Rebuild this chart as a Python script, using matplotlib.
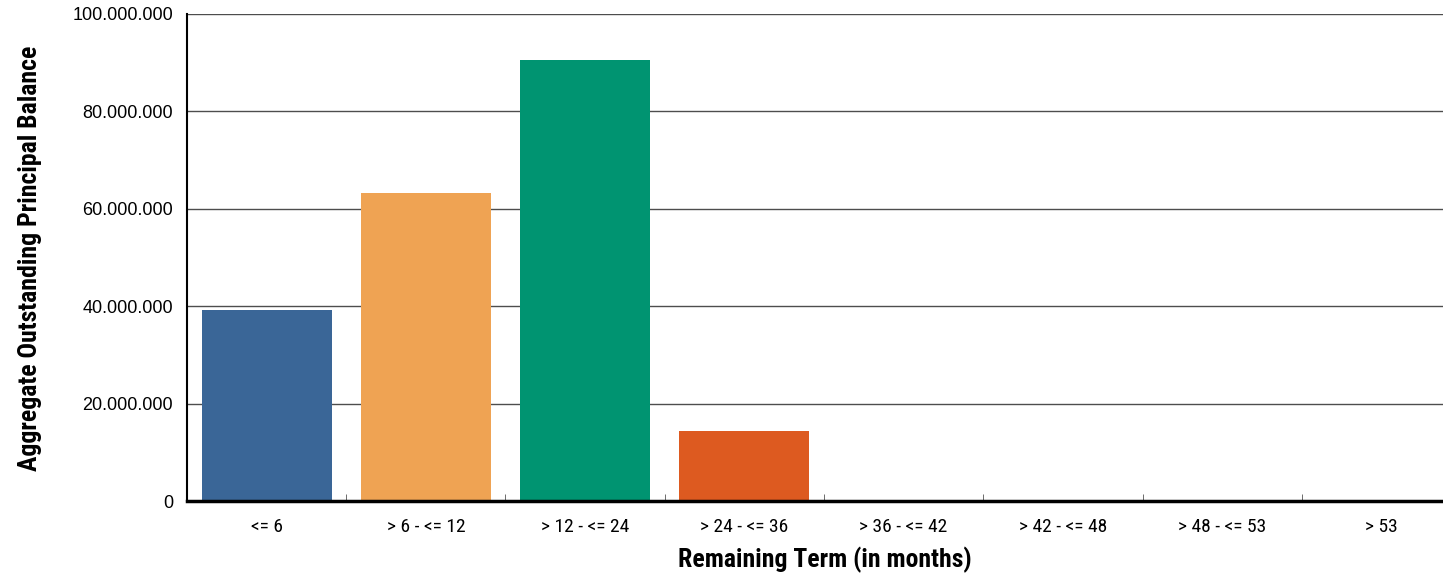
import matplotlib
matplotlib.use("Agg")
import matplotlib.pyplot as plt
from matplotlib import font_manager
from matplotlib.ticker import FuncFormatter, FixedLocator

names = {f.name for f in font_manager.fontManager.ttflist}
narrow = "Liberation Sans"
for cand in ["Roboto Condensed", "Archivo Narrow", "PT Sans Narrow", "Fira Sans Condensed"]:
    if cand in names:
        narrow = cand
        break

categories = ["<= 6", "> 6 - <= 12", "> 12 - <= 24", "> 24 - <= 36",
              "> 36 - <= 42", "> 42 - <= 48", "> 48 - <= 53", "> 53"]
values = [39200000, 63200000, 90600000, 14400000, 0, 0, 0, 0]
colors = ["#3a6697", "#efa353", "#009471", "#dd5a20",
          "#3a6697", "#efa353", "#009471", "#dd5a20"]
yticks = [0, 20000000, 40000000, 60000000, 80000000, 100000000]

fig = plt.figure(figsize=(14.43, 5.77), dpi=100)
ax = fig.add_axes([187/1443, 1-501/577, (1461-187)/1443, (501-14)/577])

x = list(range(len(categories)))
ax.bar(x, values, width=0.815, color=colors, zorder=3)
ax.set_xlim(-0.5, len(categories)-0.5)
ax.set_ylim(0, 100000000)
ax.yaxis.set_major_locator(FixedLocator(yticks))
ax.yaxis.set_major_formatter(FuncFormatter(lambda v, p: f"{int(v):,}".replace(",", ".")))
ax.grid(axis="y", color="#4d4d4d", linewidth=1.0, zorder=0)
ax.set_axisbelow(True)

for s in ["top", "right"]:
    ax.spines[s].set_visible(False)
ax.spines["left"].set_color("black")
ax.spines["left"].set_linewidth(1.5)
ax.spines["bottom"].set_color("black")
ax.spines["bottom"].set_linewidth(2.5)
ax.spines["bottom"].set_zorder(4)

ax.set_xticks(x)
ax.set_xticklabels(categories, fontfamily=narrow, fontsize=14)
ax.tick_params(axis="x", length=0, pad=12)
ax.set_xticks([i + 0.5 for i in x[:-1]], minor=True)
ax.tick_params(axis="x", which="minor", direction="in", length=5, color="#555555")
ax.tick_params(axis="y", length=0, pad=10, labelsize=13)
for lab in ax.get_yticklabels():
    lab.set_fontfamily("Liberation Sans")

ax.set_xlabel("Remaining Term (in months)", fontfamily=narrow, fontweight="bold",
              fontsize=18.5, labelpad=8)
ax.set_ylabel("Aggregate Outstanding Principal Balance", fontfamily=narrow,
              fontweight="bold", fontsize=18.5, labelpad=12)
ax.xaxis.set_label_coords((825 - 187) / (1461 - 187), -(560 - 501) / (501 - 14))
ax.yaxis.set_label_coords(-(187 - 30) / (1461 - 187), (501 - 258) / (501 - 14))
ax.xaxis.label.set_va("center")
ax.yaxis.label.set_va("center")

fig.savefig("out.png", dpi=100)
